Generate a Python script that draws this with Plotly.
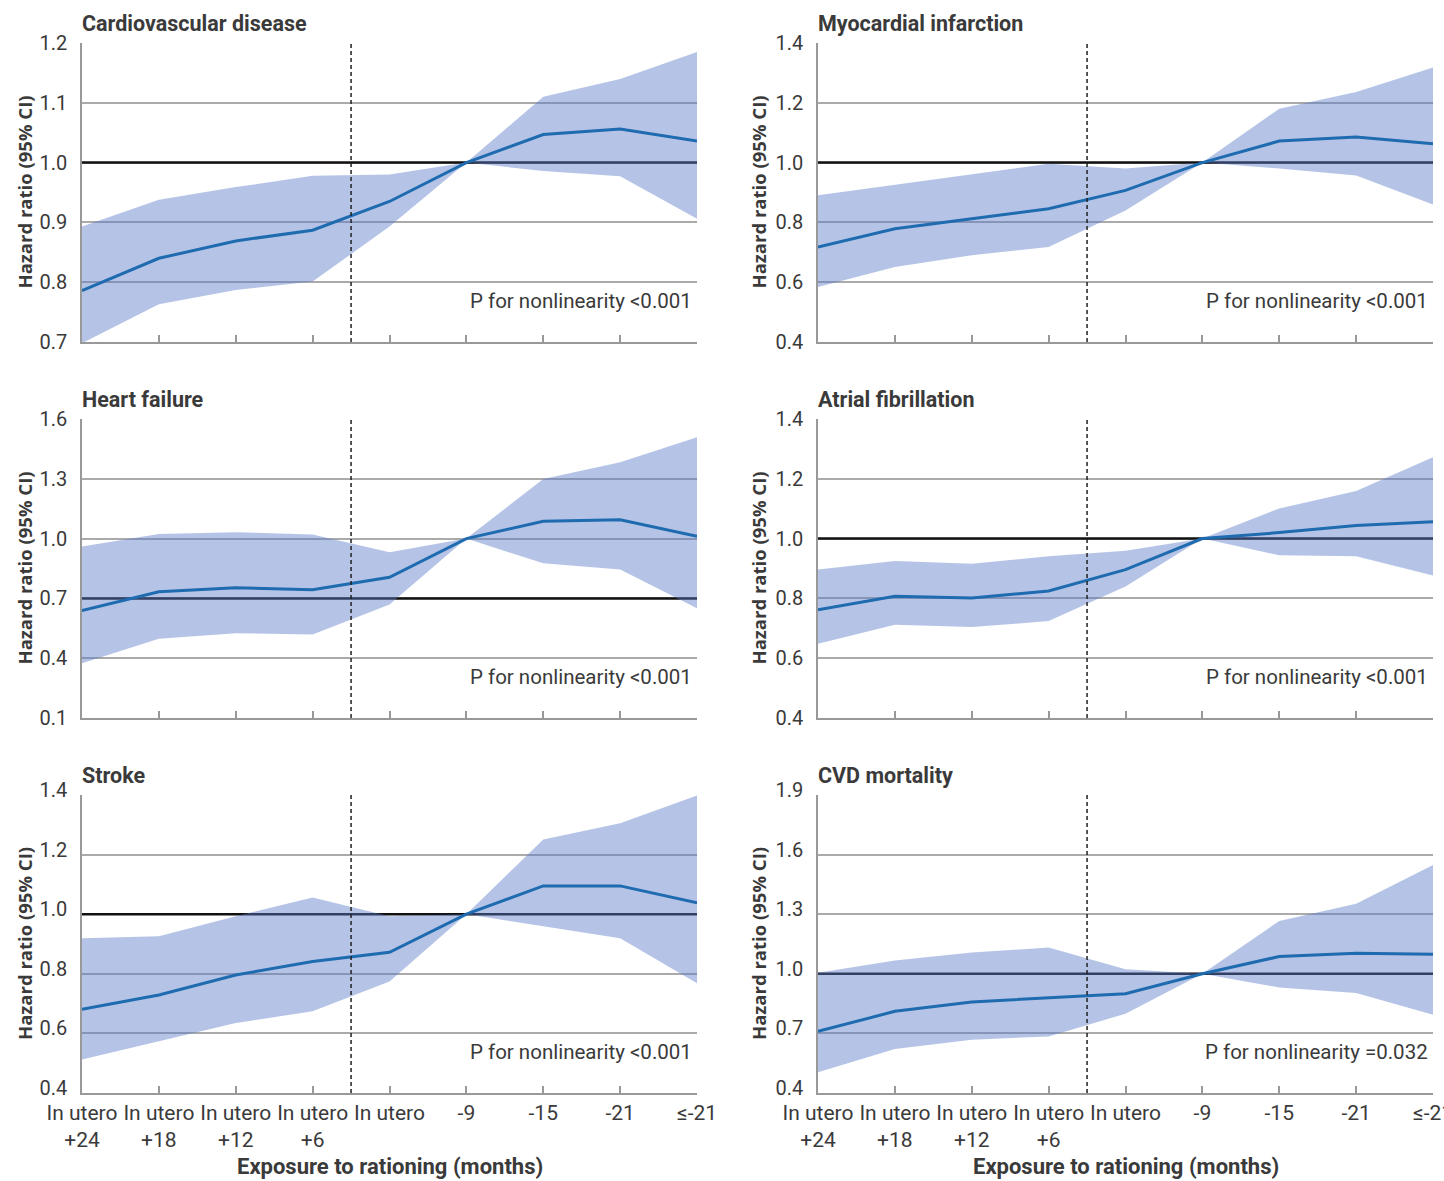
import plotly.graph_objects as go
from plotly.subplots import make_subplots

# ---------------- data ----------------
categories = ["In utero<br>+24", "In utero<br>+18", "In utero<br>+12", "In utero<br>+6",
              "In utero", "-9", "-15", "-21", "≤-21"]

panel_titles = ["Cardiovascular disease", "Myocardial infarction", "Heart failure",
                "Atrial fibrillation", "Stroke", "CVD mortality"]
p_labels = ["P for nonlinearity <0.001", "P for nonlinearity <0.001", "P for nonlinearity <0.001",
            "P for nonlinearity <0.001", "P for nonlinearity <0.001", "P for nonlinearity =0.032"]
ref_values = [1.0, 1.0, 0.7, 1.0, 1.0, 1.0]

y_min = [0.7, 0.4, 0.1, 0.4, 0.4, 0.4]
y_max = [1.2, 1.4, 1.6, 1.4, 1.4, 1.9]
y_step = [0.1, 0.2, 0.3, 0.2, 0.2, 0.3]

cvd_hr = [0.786, 0.840, 0.869, 0.887, 0.935, 1.0, 1.047, 1.056, 1.036]
cvd_up = [0.893, 0.938, 0.959, 0.978, 0.980, 1.0, 1.110, 1.140, 1.185]
cvd_lo = [0.698, 0.763, 0.787, 0.801, 0.893, 1.0, 0.986, 0.977, 0.906]

mi_hr = [0.718, 0.779, 0.812, 0.846, 0.907, 1.0, 1.072, 1.086, 1.063]
mi_up = [0.891, 0.926, 0.961, 0.996, 0.980, 1.0, 1.180, 1.236, 1.318]
mi_lo = [0.584, 0.651, 0.690, 0.718, 0.840, 1.0, 0.980, 0.957, 0.860]

hf_hr = [0.639, 0.733, 0.753, 0.744, 0.806, 1.0, 1.087, 1.094, 1.012]
hf_up = [0.960, 1.023, 1.032, 1.020, 0.931, 1.0, 1.299, 1.383, 1.508]
hf_lo = [0.375, 0.497, 0.525, 0.519, 0.669, 1.0, 0.876, 0.845, 0.651]

af_hr = [0.762, 0.807, 0.801, 0.825, 0.896, 1.0, 1.020, 1.044, 1.056]
af_up = [0.897, 0.925, 0.916, 0.941, 0.959, 1.0, 1.101, 1.159, 1.272]
af_lo = [0.648, 0.712, 0.704, 0.724, 0.840, 1.0, 0.944, 0.941, 0.877]

st_hr = [0.681, 0.729, 0.796, 0.841, 0.872, 1.0, 1.095, 1.095, 1.038]
st_up = [0.919, 0.926, 0.993, 1.056, 0.993, 1.0, 1.251, 1.305, 1.398]
st_lo = [0.512, 0.573, 0.635, 0.674, 0.774, 1.0, 0.960, 0.919, 0.768]

mort_hr = [0.710, 0.811, 0.858, 0.878, 0.900, 1.0, 1.087, 1.104, 1.099]
mort_up = [1.005, 1.067, 1.107, 1.132, 1.023, 1.0, 1.266, 1.352, 1.548]
mort_lo = [0.504, 0.621, 0.668, 0.685, 0.799, 1.0, 0.931, 0.903, 0.794]

series = [(cvd_hr, cvd_up, cvd_lo), (mi_hr, mi_up, mi_lo), (hf_hr, hf_up, hf_lo),
          (af_hr, af_up, af_lo), (st_hr, st_up, st_lo), (mort_hr, mort_up, mort_lo)]

x_pos = list(range(len(categories)))
x_end = len(categories) - 1
divider_x = 3.5

# ---------------- layout geometry ----------------
W, H = 1444, 1181
col_px = [(82, 697), (818, 1433)]
row_px = [(43, 342), (419, 718), (795, 1093)]
ytitle_px = [24, 758]

def px(x):
    return x / W

def py(y):
    return 1 - y / H

LINE_BLUE = "#1f6bb0"
BAND = "rgba(90,125,200,0.45)"
GRID = "#aaaaaa"
TEXT = "#3a3a3a"
FONT = "Roboto, Liberation Sans, sans-serif"
BOLD_FONT = "Roboto, Liberation Sans, sans-serif"

fig = make_subplots(rows=3, cols=2)

annotations = []
for i in range(6):
    r, c = i // 2 + 1, i % 2 + 1
    hr, up, lo = series[i]
    # reference line (under the band, above the grid)
    fig.add_trace(go.Scatter(x=[0, x_end], y=[ref_values[i], ref_values[i]], mode="lines",
                             line=dict(width=2.5, color="#111111"), showlegend=False,
                             hoverinfo="skip"), row=r, col=c)
    fig.add_trace(go.Scatter(x=x_pos, y=up, mode="lines", line=dict(width=0, color=BAND),
                             showlegend=False, hoverinfo="skip"), row=r, col=c)
    fig.add_trace(go.Scatter(x=x_pos, y=lo, mode="lines", line=dict(width=0, color=BAND),
                             fill="tonexty", fillcolor=BAND, showlegend=False, hoverinfo="skip"),
                  row=r, col=c)
    fig.add_trace(go.Scatter(x=x_pos, y=hr, mode="lines", line=dict(width=3, color=LINE_BLUE),
                             showlegend=False), row=r, col=c)

    fig.add_vline(x=divider_x, row=r, col=c, line=dict(color="#222222", width=1.5, dash="4px,3px"),
                  layer="above")

    x0, x1 = col_px[c - 1]
    y0, y1 = row_px[r - 1]
    fig.update_xaxes(row=r, col=c, domain=[px(x0), px(x1)], range=[0, x_end],
                     tickmode="array", tickvals=x_pos, ticktext=categories,
                     showticklabels=(r == 3), ticks="inside", ticklen=7, tickwidth=1.5,
                     tickcolor="#999999", showline=True, linecolor="#999999", linewidth=1.5,
                     showgrid=False, zeroline=False, automargin=False, ticklabeloverflow="allow",
                     tickfont=dict(family=FONT, size=21, color=TEXT))
    fig.update_yaxes(row=r, col=c, domain=[py(y1), py(y0)], range=[y_min[i], y_max[i]],
                     tick0=y_min[i], dtick=y_step[i], tickformat=".1f", ticks="",
                     showline=True, linecolor="#999999", linewidth=1.5,
                     showgrid=True, gridcolor=GRID, gridwidth=1.5, zeroline=False,
                     ticklabelstandoff=9, ticklabelshift=(-5 if r == 3 else 0), automargin=False,
                     tickfont=dict(family=FONT, size=20, color=TEXT))

    # panel title
    annotations.append(dict(text="<b>" + panel_titles[i] + "</b>", xref="paper", yref="paper",
                            x=px(x0 - 2), y=py(y0 - 20), xanchor="left", yanchor="middle",
                            showarrow=False, font=dict(family=BOLD_FONT, size=21.5, color=TEXT)))
    # p value
    annotations.append(dict(text=p_labels[i], xref="paper", yref="paper",
                            x=px(x1 - 3), y=py(y1 - 41), xanchor="right", yanchor="middle",
                            showarrow=False, font=dict(family=FONT, size=20.5, color=TEXT)))
    # y axis title
    annotations.append(dict(text="<b>Hazard ratio (95% CI)</b>", xref="paper", yref="paper",
                            x=px(ytitle_px[c - 1]), y=py((y0 + y1) / 2), xanchor="center",
                            yanchor="middle", textangle=-90, showarrow=False,
                            font=dict(family="Open Sans, sans-serif", size=18.5, color=TEXT)))

for c in (1, 2):
    x0, x1 = col_px[c - 1]
    annotations.append(dict(text="<b>Exposure to rationing (months)</b>", xref="paper", yref="paper",
                            x=px((x0 + x1) / 2), y=py(1166), xanchor="center", yanchor="middle",
                            showarrow=False, font=dict(family=BOLD_FONT, size=22, color=TEXT)))

fig.update_layout(width=W, height=H, margin=dict(l=0, r=0, t=0, b=0), autosize=False,
                  paper_bgcolor="white", plot_bgcolor="white", showlegend=False,
                  annotations=annotations)

fig.write_html("out.html", config={"displayModeBar": False, "responsive": False},
               post_script="document.body.style.margin='0';document.body.style.overflow='hidden';")
